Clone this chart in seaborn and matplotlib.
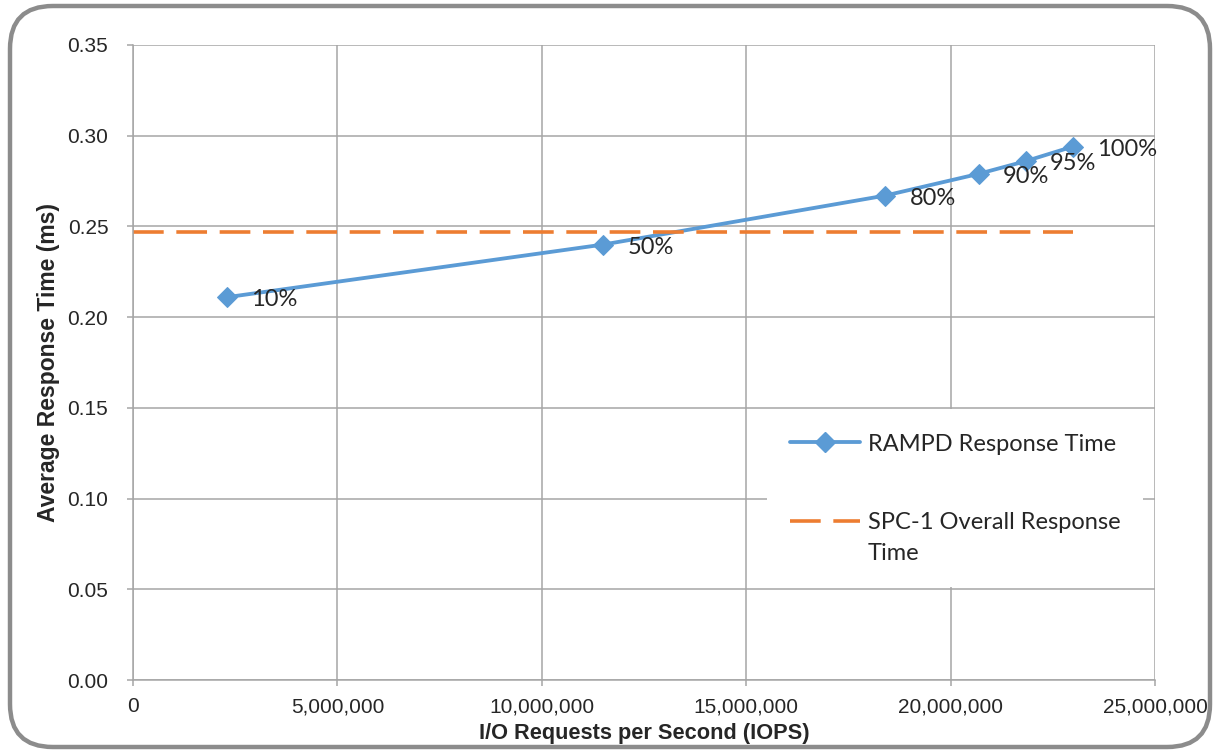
import matplotlib
matplotlib.use("Agg")
import matplotlib.pyplot as plt
from matplotlib.patches import FancyBboxPatch, Rectangle
from matplotlib.lines import Line2D
from matplotlib.ticker import FuncFormatter, MultipleLocator
import seaborn as sns
import pandas as pd

# Datos
iops = [2300000, 11500000, 18400000, 20690000, 21840000, 22990000]
response_ms = [0.211, 0.240, 0.267, 0.279, 0.286, 0.294]
load_labels = ["10%", "50%", "80%", "90%", "95%", "100%"]
overall_response = 0.247

blue = "#5B9BD5"
orange = "#ED7D31"
grid_gray = "#A6A6A6"
label_font = ["Lato", "DejaVu Sans"]

sns.set_theme(style="white")
plt.rcParams["font.family"] = ["Liberation Sans", "DejaVu Sans"]

df = pd.DataFrame({"IOPS": iops, "RT": response_ms, "label": load_labels})

fig = plt.figure(figsize=(12.22, 7.54), dpi=100)
ax = fig.add_axes([133 / 1222, 1 - 680 / 754, 1022 / 1222, 635 / 754])

# Marco redondeado exterior
frame = FancyBboxPatch((10 / 1222, 7 / 754), 1200 / 1222, 741 / 754,
                       boxstyle="round,pad=0,rounding_size=0.035",
                       transform=fig.transFigure, facecolor="none",
                       edgecolor="#8C8C8C", linewidth=3.2, mutation_aspect=1222 / 754)
fig.patches.append(frame)

sns.lineplot(data=df, x="IOPS", y="RT", ax=ax, color=blue, linewidth=2.75,
             marker="D", markersize=10, markeredgecolor=blue, label="_nolegend_")
ax.plot([0, max(iops)], [overall_response, overall_response], color=orange,
        linewidth=2.6, linestyle=(0, (8.5, 3.5)))

for x, y, t in zip(iops, response_ms, load_labels):
    ax.annotate(t, (x, y), xytext=(17.5, -2), textcoords="offset points",
                ha="left", va="center", fontsize=17, family=label_font)

ax.set_xlim(0, 25000000)
ax.set_ylim(0, 0.35)
ax.xaxis.set_major_locator(MultipleLocator(5000000))
ax.yaxis.set_major_locator(MultipleLocator(0.05))
ax.xaxis.set_major_formatter(FuncFormatter(lambda v, p: f"{int(v):,}"))
ax.yaxis.set_major_formatter(FuncFormatter(lambda v, p: f"{v:.2f}"))
ax.grid(True, color=grid_gray, linewidth=1.1)
ax.set_axisbelow(True)
for s in ["top", "right"]:
    ax.spines[s].set_visible(False)
for s in ["left", "bottom"]:
    ax.spines[s].set_color(grid_gray)
    ax.spines[s].set_linewidth(1.1)
ax.tick_params(axis="both", which="major", length=4.3, width=1.1, color=grid_gray,
               labelsize=15, direction="out", bottom=True, left=True)
ax.tick_params(axis="x", pad=8)
ax.tick_params(axis="y", pad=13.5)

ax.set_xlabel("I/O Requests per Second (IOPS)", fontsize=15.7, fontweight="bold", labelpad=5)
ax.set_ylabel("Average Response Time (ms)", fontsize=16.5, fontweight="bold", labelpad=5)

# Fondo blanco de la leyenda (tapa parte de la rejilla)
ax.add_patch(Rectangle((0.6204, 0.1465), 0.368, 0.2803, transform=ax.transAxes,
                       facecolor="white", edgecolor="none", zorder=1))

handles = [
    Line2D([], [], color=blue, linewidth=2.75, marker="D", markersize=10),
    Line2D([], [], color=orange, linewidth=2.6, linestyle=(0, (8.5, 3.5))),
]
leg = ax.legend(handles, ["RAMPD Response Time", "SPC-1 Overall Response"],
                loc="upper left", bbox_to_anchor=(0.643, 0.388),
                frameon=False, handlelength=2.95, handletextpad=0.34,
                labelspacing=2.44, borderpad=0, borderaxespad=0,
                prop={"family": label_font, "size": 17})

# segunda línea de la etiqueta de la leyenda
fig.canvas.draw()
bb = leg.get_texts()[1].get_window_extent()
fig.text(bb.x0 / fig.bbox.width, (bb.y0 - 31) / fig.bbox.height, "Time",
         fontsize=17, family=label_font, ha="left", va="bottom")

fig.savefig("out.png", dpi=100)
